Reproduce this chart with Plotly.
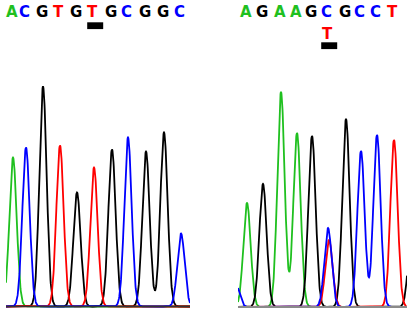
import numpy as np
import plotly.graph_objects as go

# ---------------- data ----------------
# Left chromatogram: base calls, peak positions (scan units) and peak heights
left_calls = ["A", "C", "G", "T", "G", "T", "G", "C", "G", "G", "C"]
left_pos = [13, 26, 43, 60, 77, 94, 112, 128, 146, 164, 181]
left_height = [149, 159, 220, 161, 114, 139, 157, 169, 155, 174, 73]
left_variant_index = 5

# Right chromatogram
right_calls = ["A", "G", "A", "A", "G", "C", "G", "C", "C", "T"]
right_pos = [247, 263, 281, 297, 312, 328, 346, 361, 377, 394]
right_height = [104, 123, 215, 174, 171, 79, 188, 156, 172, 167]
right_variant_index = 5
# secondary (heterozygous) call under the variant position
right_second_call = ["T"]
right_second_pos = [329]
right_second_height = [67]
# partial peaks cut by the panel edges
right_edge_calls = ["C", "G"]
right_edge_pos = [236, 412]
right_edge_height = [22, 80]

base_colors = {"A": "#1fc01f", "C": "#0000ff", "G": "#000000", "T": "#ff0000"}
trace_order = ["A", "G", "T", "C"]

LEFT_RANGE = [6, 190]
RIGHT_RANGE = [238, 407]
SIGMA = 3.65


def base_traces(calls, pos, heights, xr, xaxis, yaxis):
    grid = np.arange(xr[0], xr[1] + 0.01, 0.25)
    traces = []
    for b in trace_order:
        sig = np.zeros_like(grid)
        for c, p, h in zip(calls, pos, heights):
            if c == b:
                sig += h * np.exp(-((grid - p) ** 2) / (2 * SIGMA ** 2))
        traces.append(go.Scatter(
            x=grid, y=sig, mode="lines", xaxis=xaxis, yaxis=yaxis,
            line=dict(color=base_colors[b], width=1.8),
            hoverinfo="skip", showlegend=False))
    return traces


fig = go.Figure()
for t in base_traces(left_calls, left_pos, left_height, LEFT_RANGE, "x", "y"):
    fig.add_trace(t)
for t in base_traces(right_calls + right_second_call + right_edge_calls,
                     right_pos + right_second_pos + right_edge_pos,
                     right_height + right_second_height + right_edge_height,
                     RIGHT_RANGE, "x2", "y2"):
    fig.add_trace(t)

W, H = 408, 311
annotations = []
for calls, pos, xref in [(left_calls, left_pos, "x"), (right_calls, right_pos, "x2")]:
    for c, p in zip(calls, pos):
        annotations.append(dict(
            x=p, y=1 - 12 / H, xref=xref, yref="paper", text=c, showarrow=False,
            xshift=-1.5, xanchor="center", yanchor="middle",
            font=dict(family="DejaVu Sans", size=15, color=base_colors[c], weight="bold")))
for c, p in zip(right_second_call, right_second_pos):
    annotations.append(dict(
        x=p, y=1 - 34 / H, xref="x2", yref="paper", text=c, showarrow=False,
        xshift=-1.5, xanchor="center", yanchor="middle",
        font=dict(family="DejaVu Sans", size=15, color=base_colors[c], weight="bold")))

shapes = []
for pos, idx, xref, ytop in [(left_pos, left_variant_index, "x", 22.3),
                             (right_pos, right_variant_index, "x2", 42.3)]:
    cx = pos[idx] + 1.2
    shapes.append(dict(type="rect", xref=xref, yref="paper",
                       x0=cx - 8, x1=cx + 8, y0=1 - (ytop + 6.8) / H, y1=1 - ytop / H,
                       fillcolor="black", line=dict(width=0)))
# baselines drawn above the traces
shapes.append(dict(type="line", xref="x", yref="y", x0=LEFT_RANGE[0], x1=LEFT_RANGE[1],
                   y0=0, y1=0, layer="above", line=dict(color="#333333", width=1.5)))
shapes.append(dict(type="line", xref="x2", yref="y2", x0=RIGHT_RANGE[0], x1=RIGHT_RANGE[1],
                   y0=0, y1=0, layer="above", line=dict(color="#8a8a8a", width=2)))

axis_common = dict(showgrid=False, showticklabels=False, ticks="", showline=False,
                   zeroline=False)
fig.update_layout(
    width=W, height=H,
    margin=dict(l=0, r=0, t=0, b=0),
    paper_bgcolor="white", plot_bgcolor="white",
    showlegend=False,
    xaxis=dict(domain=[LEFT_RANGE[0] / W, LEFT_RANGE[1] / W], range=LEFT_RANGE, **axis_common),
    xaxis2=dict(domain=[RIGHT_RANGE[0] / W, RIGHT_RANGE[1] / W], range=RIGHT_RANGE, **axis_common),
    yaxis=dict(range=[-4.5, 306.5], anchor="x", **axis_common),
    yaxis2=dict(range=[-4, 307], anchor="x2", **axis_common),
    annotations=annotations,
    shapes=shapes,
)

fig.write_html(
    "out.html",
    config={"displayModeBar": False},
    post_script="document.body.style.margin='0';document.body.style.padding='0';"
                "document.body.style.overflow='hidden';",
)
